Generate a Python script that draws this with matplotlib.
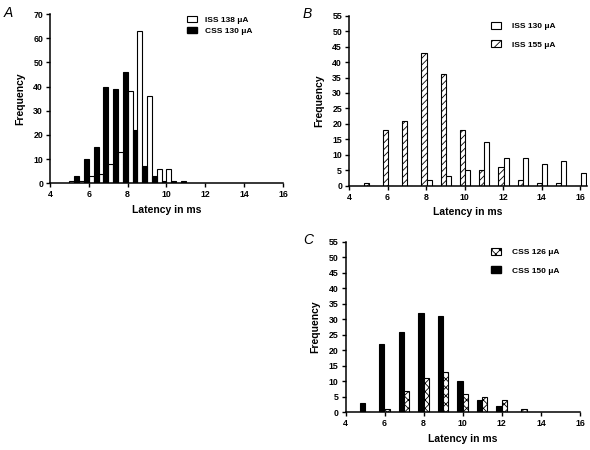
import matplotlib
matplotlib.use("Agg")
import matplotlib.pyplot as plt
from matplotlib.patches import Patch
import numpy as np

plt.rcParams['font.family'] = ['Liberation Sans', 'DejaVu Sans']
plt.rcParams['hatch.linewidth'] = 0.6

# ---- Data ----
# Panel A: 0.5 ms bins
A_bins = [5.25, 5.75, 6.25, 6.75, 7.25, 7.75, 8.25, 8.75, 9.25, 9.75, 10.25, 10.75]
A_iss138 = [1, 1, 3, 4, 8, 13, 38, 63, 36, 6, 6, 0]
A_css130 = [3, 10, 15, 40, 39, 46, 22, 7, 3, 1, 1, 1]

# Panel B: 1 ms bins
B_bins = [5, 6, 7, 8, 9, 10, 11, 12, 13, 14, 15, 16]
B_iss155 = [1, 18, 21, 43, 36, 18, 5, 6, 2, 1, 1, 0]
B_iss130 = [0, 0, 0, 2, 3, 5, 14, 9, 9, 7, 8, 4]

# Panel C: 1 ms bins
C_bins = [5, 6, 7, 8, 9, 10, 11, 12, 13]
C_css150 = [3, 22, 26, 32, 31, 10, 4, 2, 0]
C_css126 = [0, 1, 7, 11, 13, 6, 5, 4, 1]

x_ticks = [4, 6, 8, 10, 12, 14, 16]

W, H = 590, 450
fig = plt.figure(figsize=(5.9, 4.5), dpi=100)

def axes_px(l, r, b, t):
    return fig.add_axes([l / W, 1 - b / H, (r - l) / W, (b - t) / H])

def style(ax, ymax, ystep, xmax):
    ax.set_xlim(4, xmax)
    ax.set_ylim(0, ymax)
    ax.set_xticks(x_ticks)
    ax.set_yticks(np.arange(0, ymax + 1, ystep))
    for s in ['top', 'right']:
        ax.spines[s].set_visible(False)
    for s in ['left', 'bottom']:
        ax.spines[s].set_linewidth(1.1)
    ax.tick_params(direction='out', length=3, width=1, labelsize=6.3, pad=2)
    for lab in ax.get_xticklabels() + ax.get_yticklabels():
        lab.set_fontweight('bold')
    ax.set_ylabel('Frequency', fontsize=7.5, fontweight='bold', labelpad=6)
    ax.set_xlabel('Latency in ms', fontsize=7.5, fontweight='bold', labelpad=4)

bw = 0.27

# Panel A
axA = axes_px(50, 283, 183.3, 14)
xa = np.array(A_bins)
axA.bar(xa - 0.125, A_iss138, width=0.25, facecolor='white', edgecolor='black', linewidth=0.8)
axA.bar(xa + 0.125, A_css130, width=0.25, facecolor='black', edgecolor='black', linewidth=0.8)
style(axA, 70, 10, 16)
legA = axA.legend(handles=[Patch(facecolor='white', edgecolor='black', linewidth=0.8, label='ISS 138 \u03bcA'),
                           Patch(facecolor='black', edgecolor='black', label='CSS 130 \u03bcA')],
                  loc='upper left', bbox_to_anchor=(187 / W, 1 - 16 / H), bbox_transform=fig.transFigure,
                  frameon=False, fontsize=6, handlelength=1.2, handleheight=0.8, handletextpad=1.0,
                  labelspacing=0.3, borderpad=0, borderaxespad=0)
for t in legA.get_texts():
    t.set_fontweight('bold')

# Panel B
axB = axes_px(349, 587, 185.7, 15.7)
xb = np.array(B_bins)
axB.bar(xb - 0.11, B_iss155, width=bw, facecolor='white', edgecolor='black', linewidth=0.8, hatch='/////')
axB.bar(xb + 0.16, B_iss130, width=bw, facecolor='white', edgecolor='black', linewidth=0.8)
style(axB, 55, 5, 16.36)
legB = axB.legend(handles=[Patch(facecolor='white', edgecolor='black', linewidth=0.8, label='ISS 130 \u03bcA'),
                           Patch(facecolor='white', edgecolor='black', linewidth=0.8, hatch='////', label='ISS 155 \u03bcA')],
                  loc='upper left', bbox_to_anchor=(491 / W, 1 - 22 / H), bbox_transform=fig.transFigure,
                  frameon=False, fontsize=6, handlelength=1.2, handleheight=0.9, handletextpad=1.3,
                  labelspacing=1.2, borderpad=0, borderaxespad=0)
for t in legB.get_texts():
    t.set_fontweight('bold')

# Panel C
axC = axes_px(345.5, 580, 412.3, 241.7)
xc = np.array(C_bins)
axC.bar(xc - 0.14, C_css150, width=bw, facecolor='black', edgecolor='black', linewidth=0.8)
axC.bar(xc + 0.13, C_css126, width=bw, facecolor='white', edgecolor='black', linewidth=0.8, hatch='xxxx')
style(axC, 55, 5, 16)
legC = axC.legend(handles=[Patch(facecolor='white', edgecolor='black', linewidth=0.8, hatch='xxxx', label='CSS 126 \u03bcA'),
                           Patch(facecolor='black', edgecolor='black', label='CSS 150 \u03bcA')],
                  loc='upper left', bbox_to_anchor=(491 / W, 1 - 248 / H), bbox_transform=fig.transFigure,
                  frameon=False, fontsize=6, handlelength=1.2, handleheight=0.9, handletextpad=1.3,
                  labelspacing=1.2, borderpad=0, borderaxespad=0)
for t in legC.get_texts():
    t.set_fontweight('bold')

# Panel letters
fig.text(4 / W, 1 - 13 / H, 'A', fontsize=10, fontstyle='italic', va='center', ha='left')
fig.text(303 / W, 1 - 14 / H, 'B', fontsize=10, fontstyle='italic', va='center', ha='left')
fig.text(303 / W, 1 - 240 / H, 'C', fontsize=10, fontstyle='italic', va='center', ha='left')

fig.savefig('out.png', dpi=100, facecolor='white')
